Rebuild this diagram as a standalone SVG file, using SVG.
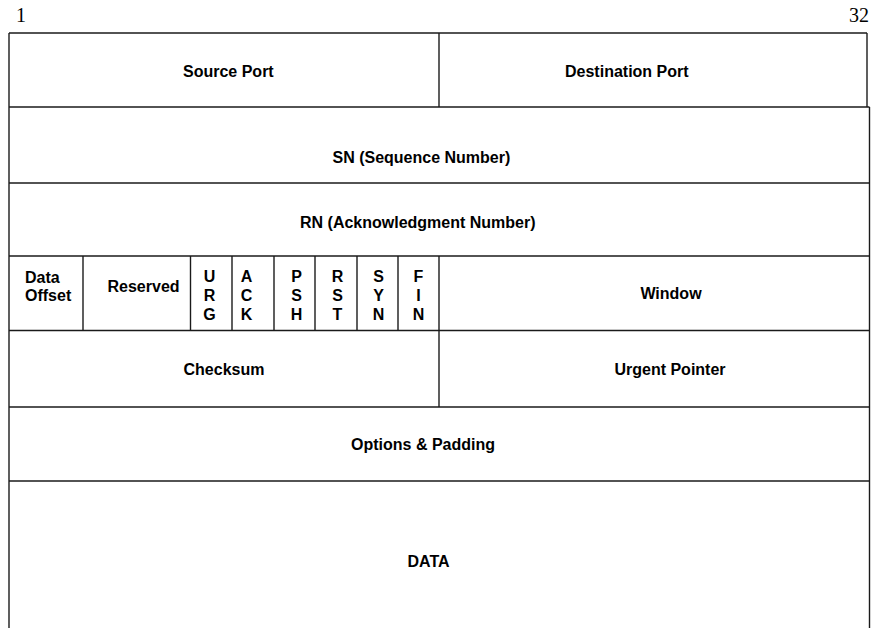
<svg xmlns="http://www.w3.org/2000/svg" width="871" height="628" viewBox="0 0 871 628">
<style>
.ln{stroke:#1a1a1a;stroke-width:1.4;fill:none}
.lb{font-family:"Liberation Sans",Arial,sans-serif;font-weight:bold;font-size:16px;fill:#000}
.c{text-anchor:middle}
.num{font-family:"Liberation Serif","Times New Roman",serif;font-size:20px;fill:#000}
</style>
<rect width="871" height="628" fill="#fff"/>
<text class="num" x="16" y="22">1</text>
<text class="num" x="869" y="22" text-anchor="end">32</text>
<g id="connectors">
<line class="ln" x1="9" y1="33" x2="9" y2="628"/>
<line class="ln" x1="867" y1="33" x2="867" y2="107"/>
<line class="ln" x1="869.5" y1="107" x2="869.5" y2="628"/>
<line class="ln" x1="9" y1="33" x2="867" y2="33"/>
<line class="ln" x1="9" y1="107" x2="869.5" y2="107"/>
<line class="ln" x1="9" y1="183" x2="869.5" y2="183"/>
<line class="ln" x1="9" y1="256" x2="869.5" y2="256"/>
<line class="ln" x1="9" y1="330.5" x2="869.5" y2="330.5"/>
<line class="ln" x1="9" y1="407" x2="869.5" y2="407"/>
<line class="ln" x1="9" y1="481" x2="869.5" y2="481"/>
<line class="ln" x1="439" y1="33" x2="439" y2="107"/>
<line class="ln" x1="83" y1="256" x2="83" y2="330.5"/>
<line class="ln" x1="190.5" y1="256" x2="190.5" y2="330.5"/>
<line class="ln" x1="232" y1="256" x2="232" y2="330.5"/>
<line class="ln" x1="274" y1="256" x2="274" y2="330.5"/>
<line class="ln" x1="315" y1="256" x2="315" y2="330.5"/>
<line class="ln" x1="357" y1="256" x2="357" y2="330.5"/>
<line class="ln" x1="398" y1="256" x2="398" y2="330.5"/>
<line class="ln" x1="439" y1="256" x2="439" y2="407"/>
</g>
<g id="source-port"><text class="lb" x="183" y="77">Source Port</text></g>
<g id="destination-port"><text class="lb" x="565" y="77">Destination Port</text></g>
<g id="sn"><text class="lb" x="332.5" y="163">SN (Sequence Number)</text></g>
<g id="rn"><text class="lb" x="300" y="228">RN (Acknowledgment Number)</text></g>
<g id="data-offset"><text class="lb" x="25" y="283">Data</text><text class="lb" x="25" y="301">Offset</text></g>
<g id="reserved"><text class="lb" x="107.5" y="292">Reserved</text></g>
<g id="urg"><text class="lb c" x="209.5" y="282">U</text><text class="lb c" x="209.5" y="301">R</text><text class="lb c" x="209.5" y="320">G</text></g>
<g id="ack"><text class="lb c" x="246.5" y="282">A</text><text class="lb c" x="246.5" y="301">C</text><text class="lb c" x="246.5" y="320">K</text></g>
<g id="psh"><text class="lb c" x="296.5" y="282">P</text><text class="lb c" x="296.5" y="301">S</text><text class="lb c" x="296.5" y="320">H</text></g>
<g id="rst"><text class="lb c" x="337.5" y="282">R</text><text class="lb c" x="337.5" y="301">S</text><text class="lb c" x="337.5" y="320">T</text></g>
<g id="syn"><text class="lb c" x="378.5" y="282">S</text><text class="lb c" x="378.5" y="301">Y</text><text class="lb c" x="378.5" y="320">N</text></g>
<g id="fin"><text class="lb c" x="418.5" y="282">F</text><text class="lb c" x="418.5" y="301">I</text><text class="lb c" x="418.5" y="320">N</text></g>
<g id="window"><text class="lb c" x="671" y="299">Window</text></g>
<g id="checksum"><text class="lb c" x="224" y="375">Checksum</text></g>
<g id="urgent-pointer"><text class="lb c" x="670" y="375">Urgent Pointer</text></g>
<g id="options"><text class="lb c" x="423" y="450">Options &amp; Padding</text></g>
<g id="data"><text class="lb c" x="428.5" y="567">DATA</text></g>
</svg>
